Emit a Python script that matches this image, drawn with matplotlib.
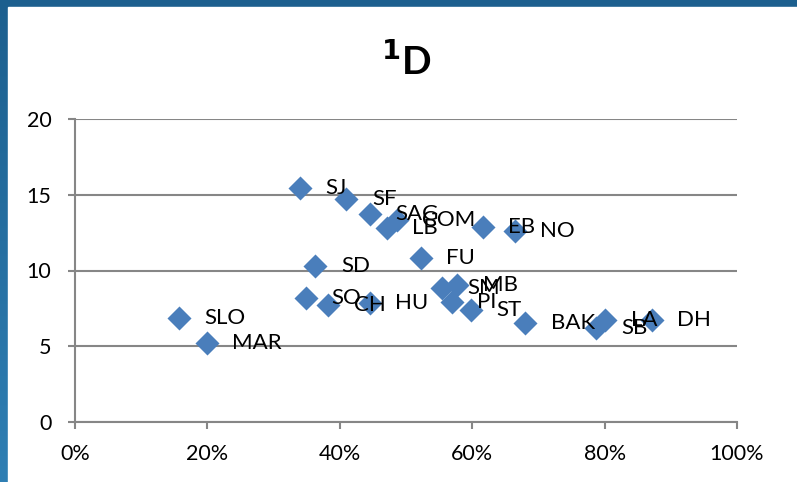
import numpy as np
import matplotlib.pyplot as plt
from matplotlib.ticker import PercentFormatter

names = ['SLO', 'MAR', 'SJ', 'SF', 'SAG', 'LB', 'COM', 'EB', 'NO', 'FU', 'SD',
         'SO', 'CH', 'HU', 'SM', 'MB', 'PI', 'ST', 'BAK', 'SB', 'LA', 'DH']
share = [0.157, 0.199, 0.340, 0.410, 0.445, 0.471, 0.486, 0.616, 0.664, 0.522, 0.363,
         0.349, 0.382, 0.445, 0.554, 0.577, 0.569, 0.598, 0.680, 0.787, 0.801, 0.871]
d1 = [6.86, 5.19, 15.42, 14.70, 13.73, 12.79, 13.33, 12.89, 12.61, 10.85, 10.30,
      8.17, 7.72, 7.83, 8.83, 9.04, 7.94, 7.39, 6.51, 6.20, 6.73, 6.73]

plt.rcParams['font.family'] = ['Lato', 'DejaVu Sans']

fig = plt.figure(figsize=(7.97, 4.82), dpi=100)

# blue slide frame on the left and top
bg = fig.add_axes([0, 0, 1, 1], zorder=-10)
grad = np.linspace(0, 1, 256).reshape(-1, 1)
bg.imshow(grad, cmap=plt.matplotlib.colors.LinearSegmentedColormap.from_list(
    'frame', ['#1c5f8e', '#2f7fb4']), aspect='auto', extent=[0, 1, 0, 1], origin='upper')
bg.add_patch(plt.Rectangle((8 / 797, 0), 1, 1 - 7 / 482, color='white'))
bg.set_xlim(0, 1)
bg.set_ylim(0, 1)
bg.axis('off')

ax = fig.add_axes([75 / 797, 60 / 482, 662 / 797, 303 / 482])
ax.patch.set_alpha(0)
ax.scatter(share, d1, marker='D', s=150, color='#4a7ebb', zorder=3, linewidths=0)
for n, x, y in zip(names, share, d1):
    ax.annotate(n, (x, y), xytext=(18.5, 0), textcoords='offset points',
                va='center', ha='left', fontsize=16, zorder=4)

ax.set_xlim(0, 1)
ax.set_ylim(0, 20)
ax.set_xticks(np.arange(0, 1.01, 0.2))
ax.set_yticks(range(0, 21, 5))
ax.xaxis.set_major_formatter(PercentFormatter(1.0, decimals=0))
ax.yaxis.grid(True, color='#868686', linewidth=1.5)
ax.set_axisbelow(True)
for s in ['top', 'right']:
    ax.spines[s].set_visible(False)
for s in ['left', 'bottom']:
    ax.spines[s].set_color('#868686')
    ax.spines[s].set_linewidth(1.5)
ax.tick_params(axis='both', colors='#868686', labelcolor='black', labelsize=15.5,
               length=5, width=1.5)
ax.tick_params(axis='y', pad=12)
ax.tick_params(axis='x', pad=11)

fig.text(0.51, 0.875, r'$^{\mathbf{1}}$D', ha='center', va='center',
         fontsize=28, fontweight='bold')

fig.savefig('out.png', dpi=100)
